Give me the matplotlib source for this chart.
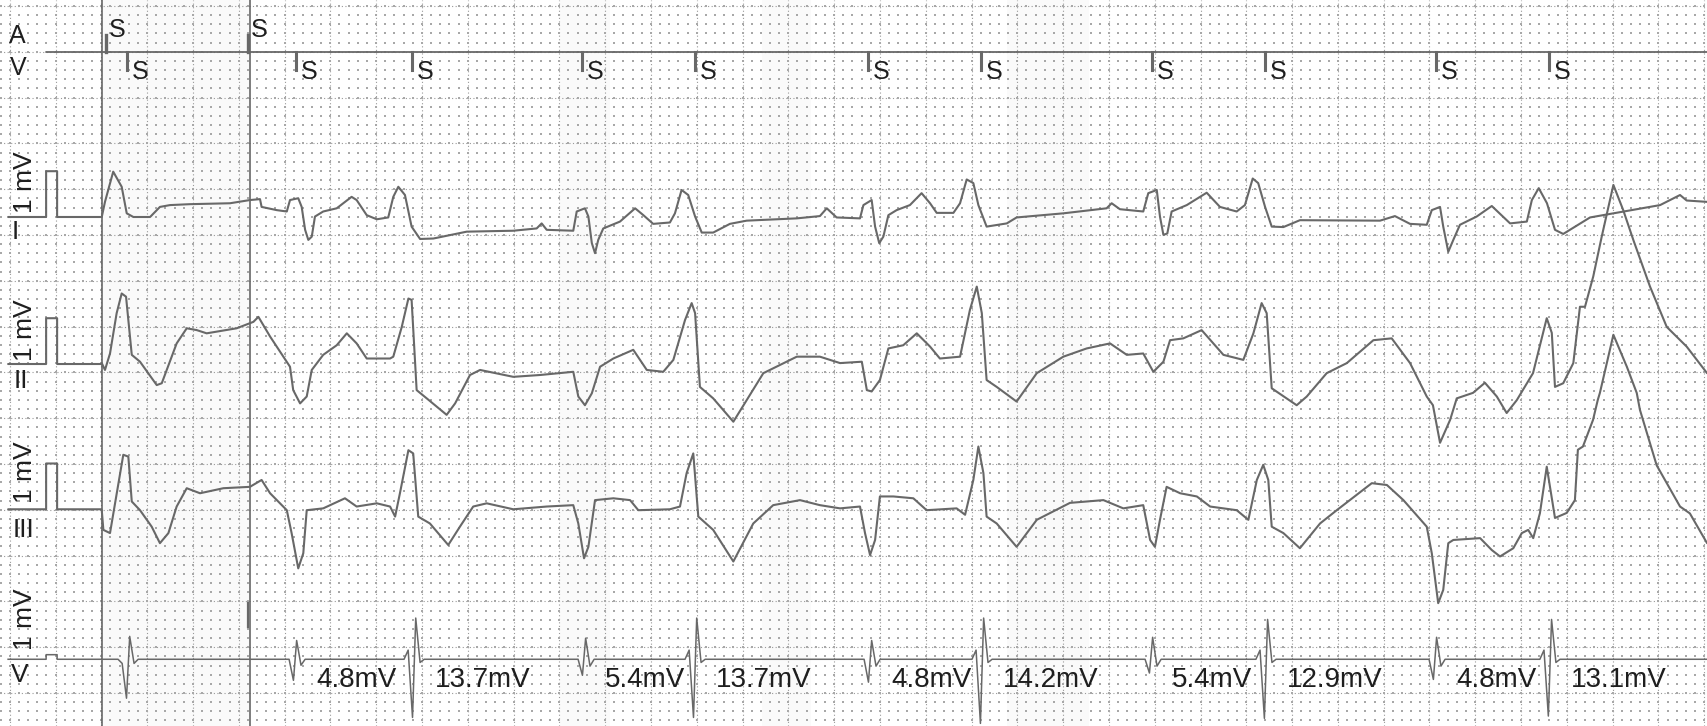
"""
ECG strip: pacing markers (A / V), surface leads I, II, III and the
ventricular electrogram with the measured amplitudes.
Paper 25 mm/s (big box = 0.2 s), leads 1 box = 1 mV, EGM 1 box = 10 mV.
"""
import numpy as np
import matplotlib
matplotlib.use('Agg')
import matplotlib.pyplot as plt

plt.rcParams['font.family'] = ['Liberation Sans', 'DejaVu Sans']

##########################################
# pacing markers (s)
a_pace = [0.021, 0.642]
v_pace = [0.111, 0.850, 1.355, 2.098, 2.593, 3.348, 3.841, 4.588, 5.081, 5.828, 6.322]
event_lines = [0.003, 0.649]

# calibration pulse (s, mV)
cal_t = [-0.407, -0.241, -0.241, -0.193, -0.193, 0.0]
cal_mv = [0.0, 0.0, 1.0, 1.0, 0.0, 0.0]

# lead I (s, mV)
lead1 = np.array([
    (0.002, 0.0), (0.016, 0.33), (0.052, 0.99), (0.089, 0.66), (0.111, 0.08), (0.140, 0.0),
    (0.213, 0.0), (0.256, 0.22), (0.300, 0.26), (0.387, 0.28), (0.562, 0.30), (0.649, 0.37),
    (0.693, 0.39), (0.700, 0.22), (0.766, 0.15), (0.810, 0.12), (0.824, 0.37), (0.860, 0.41),
    (0.875, 0.22), (0.890, -0.28), (0.904, -0.50), (0.919, -0.43), (0.933, 0.01), (0.969, 0.12),
    (1.028, 0.19), (1.093, 0.44), (1.115, 0.37), (1.159, 0.04), (1.203, -0.05), (1.253, -0.01),
    (1.275, 0.44), (1.297, 0.66), (1.326, 0.48), (1.355, -0.21), (1.392, -0.48), (1.450, -0.47),
    (1.596, -0.32), (1.799, -0.30), (1.901, -0.25), (1.923, -0.14), (1.945, -0.28), (2.061, -0.30),
    (2.076, 0.12), (2.112, 0.19), (2.127, 0.01), (2.142, -0.57), (2.156, -0.79), (2.170, -0.50),
    (2.192, -0.25), (2.265, -0.10), (2.331, 0.19), (2.367, 0.04), (2.410, -0.15), (2.483, -0.12),
    (2.505, 0.08), (2.534, 0.59), (2.563, 0.48), (2.593, 0.01), (2.622, -0.34), (2.672, -0.34),
    (2.745, -0.15), (2.818, -0.08), (3.037, -0.03), (3.138, 0.02), (3.168, 0.19), (3.211, -0.01),
    (3.313, -0.03), (3.328, 0.26), (3.364, 0.37), (3.379, -0.21), (3.397, -0.57), (3.415, -0.43),
    (3.437, 0.04), (3.473, 0.15), (3.531, 0.26), (3.582, 0.52), (3.619, 0.30), (3.648, 0.09),
    (3.721, 0.09), (3.750, 0.30), (3.779, 0.82), (3.808, 0.74), (3.830, 0.26), (3.866, -0.21),
    (3.954, -0.14), (3.997, -0.01), (4.201, 0.08), (4.390, 0.19), (4.412, 0.30), (4.448, 0.17),
    (4.550, 0.12), (4.572, 0.52), (4.609, 0.59), (4.623, 0.01), (4.638, -0.39), (4.655, -0.36),
    (4.674, 0.12), (4.740, 0.26), (4.827, 0.53), (4.885, 0.22), (4.958, 0.12), (4.994, 0.26),
    (5.028, 0.84), (5.052, 0.74), (5.082, 0.22), (5.111, -0.21), (5.162, -0.22), (5.234, -0.07),
    (5.584, -0.08), (5.649, 0.02), (5.715, -0.15), (5.788, -0.17), (5.810, 0.15), (5.846, 0.22),
    (5.860, -0.21), (5.882, -0.76), (5.904, -0.50), (5.933, -0.17), (6.006, 0.01), (6.072, 0.24),
    (6.152, -0.14), (6.225, -0.10), (6.247, 0.37), (6.277, 0.63), (6.313, 0.30), (6.348, -0.28),
    (6.384, -0.37), (6.501, -0.01), (6.807, 0.26), (6.894, 0.48), (6.923, 0.36), (7.012, 0.33)])

# lead II (s, mV)
lead2 = np.array([
    (0.002, 0.02), (0.016, -0.13), (0.038, 0.23), (0.067, 1.11), (0.089, 1.54), (0.108, 1.47),
    (0.133, 0.20), (0.169, 0.05), (0.242, -0.46), (0.264, -0.42), (0.329, 0.45), (0.373, 0.78),
    (0.417, 0.74), (0.460, 0.67), (0.591, 0.78), (0.664, 0.92), (0.686, 1.03), (0.737, 0.60),
    (0.824, -0.06), (0.838, -0.57), (0.868, -0.86), (0.897, -0.71), (0.919, -0.13), (0.969, 0.20),
    (1.028, 0.41), (1.072, 0.67), (1.115, 0.45), (1.159, 0.12), (1.261, 0.12), (1.275, 0.16),
    (1.312, 0.81), (1.341, 1.43), (1.355, 1.40), (1.377, -0.57), (1.421, -0.75), (1.508, -1.11),
    (1.545, -0.86), (1.610, -0.24), (1.654, -0.13), (1.799, -0.28), (1.916, -0.24), (2.061, -0.17),
    (2.083, -0.71), (2.112, -0.90), (2.142, -0.64), (2.178, -0.06), (2.236, 0.12), (2.323, 0.31),
    (2.382, -0.13), (2.454, -0.17), (2.498, 0.09), (2.549, 0.96), (2.578, 1.33), (2.593, 1.11),
    (2.614, -0.50), (2.672, -0.75), (2.760, -1.26), (2.818, -0.79), (2.891, -0.20), (3.037, 0.16),
    (3.138, 0.16), (3.226, 0.02), (3.321, 0.05), (3.343, -0.57), (3.364, -0.60), (3.400, -0.35),
    (3.437, 0.34), (3.502, 0.41), (3.561, 0.67), (3.619, 0.38), (3.662, 0.12), (3.750, 0.16),
    (3.793, 1.18), (3.823, 1.69), (3.845, 1.11), (3.866, -0.35), (3.910, -0.50), (3.997, -0.82),
    (4.085, -0.20), (4.201, 0.16), (4.303, 0.34), (4.405, 0.45), (4.478, 0.20), (4.550, 0.23),
    (4.594, -0.17), (4.638, 0.05), (4.667, 0.52), (4.725, 0.56), (4.805, 0.74), (4.900, 0.20),
    (4.987, 0.09), (5.031, 0.67), (5.067, 1.33), (5.089, 1.11), (5.111, -0.53), (5.176, -0.75),
    (5.220, -0.90), (5.264, -0.71), (5.351, -0.20), (5.439, 0.02), (5.555, 0.52), (5.635, 0.56),
    (5.715, 0.02), (5.788, -0.71), (5.815, -0.90), (5.846, -1.72), (5.890, -1.22), (5.919, -0.75),
    (5.990, -0.63), (6.042, -0.41), (6.094, -0.71), (6.137, -1.07), (6.181, -0.79), (6.252, -0.20),
    (6.312, 1.00), (6.334, 0.68), (6.348, -0.50), (6.384, -0.42), (6.428, 0.02), (6.457, 1.25),
    (6.479, 1.25), (6.515, 1.91), (6.552, 2.78), (6.603, 3.91), (6.646, 3.36), (6.690, 2.71),
    (6.763, 1.69), (6.836, 0.81), (6.923, 0.38), (7.012, -0.20)])

# lead III (s, mV)
lead3 = np.array([
    (0.002, -0.02), (0.009, -0.45), (0.038, -0.52), (0.060, 0.13), (0.096, 1.19), (0.118, 1.15),
    (0.133, 0.17), (0.169, -0.02), (0.220, -0.38), (0.256, -0.74), (0.293, -0.52), (0.329, 0.06),
    (0.373, 0.46), (0.431, 0.35), (0.533, 0.46), (0.649, 0.49), (0.700, 0.64), (0.737, 0.35),
    (0.810, -0.02), (0.831, -0.52), (0.860, -1.29), (0.882, -0.96), (0.897, -0.02), (0.969, 0.02),
    (1.064, 0.24), (1.115, 0.06), (1.203, 0.13), (1.261, 0.06), (1.283, -0.16), (1.304, 0.35),
    (1.341, 1.29), (1.362, 1.22), (1.384, -0.16), (1.435, -0.31), (1.515, -0.78), (1.566, -0.38),
    (1.624, 0.06), (1.683, 0.13), (1.799, 0.00), (1.945, 0.06), (2.061, 0.09), (2.083, -0.31),
    (2.108, -1.07), (2.127, -0.82), (2.156, 0.20), (2.236, 0.24), (2.309, 0.20), (2.345, -0.02),
    (2.483, 0.00), (2.527, 0.06), (2.556, 0.79), (2.585, 1.22), (2.607, -0.16), (2.672, -0.45),
    (2.760, -1.14), (2.847, -0.31), (2.934, 0.09), (3.051, 0.20), (3.138, 0.09), (3.226, 0.02),
    (3.313, 0.06), (3.335, -0.52), (3.357, -1.00), (3.379, -0.67), (3.400, 0.28), (3.459, 0.28),
    (3.546, 0.24), (3.604, -0.02), (3.735, 0.02), (3.772, -0.12), (3.808, 0.64), (3.830, 1.37),
    (3.852, 0.79), (3.866, -0.16), (3.910, -0.31), (3.997, -0.82), (4.085, -0.23), (4.230, 0.14),
    (4.376, 0.20), (4.463, 0.02), (4.550, 0.09), (4.580, -0.67), (4.601, -0.82), (4.623, -0.23),
    (4.652, 0.49), (4.711, 0.35), (4.784, 0.28), (4.842, 0.06), (4.958, -0.02), (5.009, -0.23),
    (5.046, 0.64), (5.074, 0.97), (5.096, 0.64), (5.111, -0.38), (5.162, -0.52), (5.234, -0.85),
    (5.322, -0.31), (5.395, -0.02), (5.548, 0.57), (5.614, 0.53), (5.686, 0.20), (5.788, -0.38),
    (5.810, -0.96), (5.838, -2.05), (5.860, -1.76), (5.882, -0.74), (5.904, -0.67), (6.021, -0.63),
    (6.072, -0.89), (6.108, -1.03), (6.166, -0.85), (6.203, -0.52), (6.231, -0.45), (6.253, -0.63),
    (6.282, -0.09), (6.312, 0.93), (6.348, -0.19), (6.399, -0.08), (6.435, 0.20), (6.448, 1.30),
    (6.470, 1.37), (6.514, 1.95), (6.535, 2.39), (6.544, 2.54), (6.603, 3.81), (6.662, 3.11),
    (6.705, 2.54), (6.719, 2.17), (6.792, 0.96), (6.894, 0.06), (6.937, -0.09), (7.012, -0.74)])

# ventricular electrogram: spike time (s), deflections (mV)
egm_t = [0.117, 0.846, 1.366, 2.108, 2.593, 3.357, 3.846, 4.584, 5.086, 5.824, 6.326]
egm_pre = [-0.9, 0.0, 2.0, 0.0, 2.0, 0.0, 2.0, 0.0, 2.0, 0.0, 2.0]
egm_down = [-8.5, -4.6, -12.7, -3.5, -12.7, -5.0, -14.0, -3.0, -12.9, -4.4, -12.4]
egm_up = [5.0, 4.1, 9.0, 4.6, 9.0, 4.1, 9.0, 4.8, 8.7, 4.8, 8.7]
egm_post = [-0.9, -1.3, -0.7, -1.5, -0.7, -1.5, -0.7, -1.5, -0.7, -1.5, -0.7]
egm_labels = ['', '4.8mV', '13.7mV', '5.4mV', '13.7mV', '4.8mV', '14.2mV',
              '5.4mV', '12.9mV', '4.8mV', '13.1mV']
a_artifact_mv = (7.1, 12.3)

##########################################
trace_c = '#686868'
grid_c = '#9a9a9a'
text_c = '#1e1e1e'
fs = 20

base_mark = -1.0
base = {'I': -4.607, 'II': -7.817, 'III': -10.989}
base_v = -14.264
egm_gain = 0.1   # box per mV

fig = plt.figure(figsize=(17.07, 7.26), dpi=100)
ax = fig.add_axes([0, 0, 1, 1])
ax.set_xlim(-0.4424, 7.0118)
ax.set_ylim(-15.721, 0.131)
ax.axis('off')

# faint scanner bands
for t0, t1 in [(0.007, 0.649), (2.003, 2.221), (2.885, 3.099), (3.955, 4.313)]:
    ax.axvspan(t0, t1, color='k', alpha=0.02, lw=0, zorder=0)

# paper grid
for t in np.arange(-2, 36) * 0.2:
    ax.axvline(t, color=grid_c, lw=0.8, ls=(0, (1, 2.2)), zorder=1)
for y in range(-15, 1):
    ax.axhline(y, color=grid_c, lw=0.8, ls=(0, (1, 2.2)), zorder=1)
MT, MY = np.meshgrid(np.arange(-11, 176) * 0.04, np.arange(-78, 1) * 0.2)
ax.scatter(MT.ravel(), MY.ravel(), s=1.5, marker='s', c='#a8a8a8', lw=0, zorder=1)

for t in event_lines:
    ax.axvline(t, color='#5a5a5a', lw=1.1, zorder=2)

# marker channel
ax.plot([-0.239, 7.012], [base_mark, base_mark], color=trace_c, lw=1.3, zorder=3)
for t in a_pace:
    ax.plot([t, t], [base_mark, base_mark + 0.37], color=trace_c, lw=2.4, zorder=3)
    ax.text(t + 0.012, base_mark + 0.48, 'S', fontsize=18, color=text_c, ha='left', va='center')
for t in v_pace:
    ax.plot([t, t], [base_mark, base_mark - 0.39], color=trace_c, lw=2.2, zorder=3)
    ax.text(t + 0.022, base_mark - 0.44, 'S', fontsize=18, color=text_c, ha='left', va='center')

# surface leads
for name, lead in [('I', lead1), ('II', lead2), ('III', lead3)]:
    tt = np.concatenate([cal_t, lead[:, 0]])
    mv = np.concatenate([cal_mv, lead[:, 1]])
    ax.plot(tt, base[name] + mv, color=trace_c, lw=1.5, zorder=3,
            solid_joinstyle='round', solid_capstyle='round')

# ventricular electrogram
shape_dt = [-0.044, -0.026, -0.007, 0.007, 0.026, 0.044]
et, ev = list(cal_t[:-1]), list(np.array(cal_mv[:-1]))
for i, t in enumerate(egm_t):
    vals = [0.0, egm_pre[i], egm_down[i], egm_up[i], egm_post[i], 0.0]
    et += [t + d for d in shape_dt]
    ev += vals
et.append(7.012)
ev.append(0.0)
ax.plot(et, base_v + np.array(ev) * egm_gain, color=trace_c, lw=1.1, zorder=3)
ax.plot([a_pace[1], a_pace[1]], [base_v + a_artifact_mv[0] * egm_gain, base_v + a_artifact_mv[1] * egm_gain],
        color=trace_c, lw=1.6, zorder=3)
for t, lab in zip(egm_t, egm_labels):
    if lab:
        ax.text(t + 0.092, base_v - 0.45, lab, fontsize=fs, color=text_c, ha='left', va='center')

# channel labels
ax.text(-0.365, -0.655, 'A', fontsize=18, color=text_c, ha='center', va='center')
ax.text(-0.365, -1.354, 'V', fontsize=18, color=text_c, ha='center', va='center')
for y in [-3.854, -7.074, -10.175, -13.384]:
    ax.text(-0.333, y, '1 mV', fontsize=19, color=text_c, rotation=90, ha='center', va='center')
for lab, x, y in [('I', -0.375, -4.934), ('II', -0.350, -8.188), ('III', -0.341, -11.44), ('V', -0.355, -14.607)]:
    ax.text(x, y, lab, fontsize=19, color=text_c, ha='center', va='center')

fig.savefig('out.png', dpi=100, facecolor='white')
